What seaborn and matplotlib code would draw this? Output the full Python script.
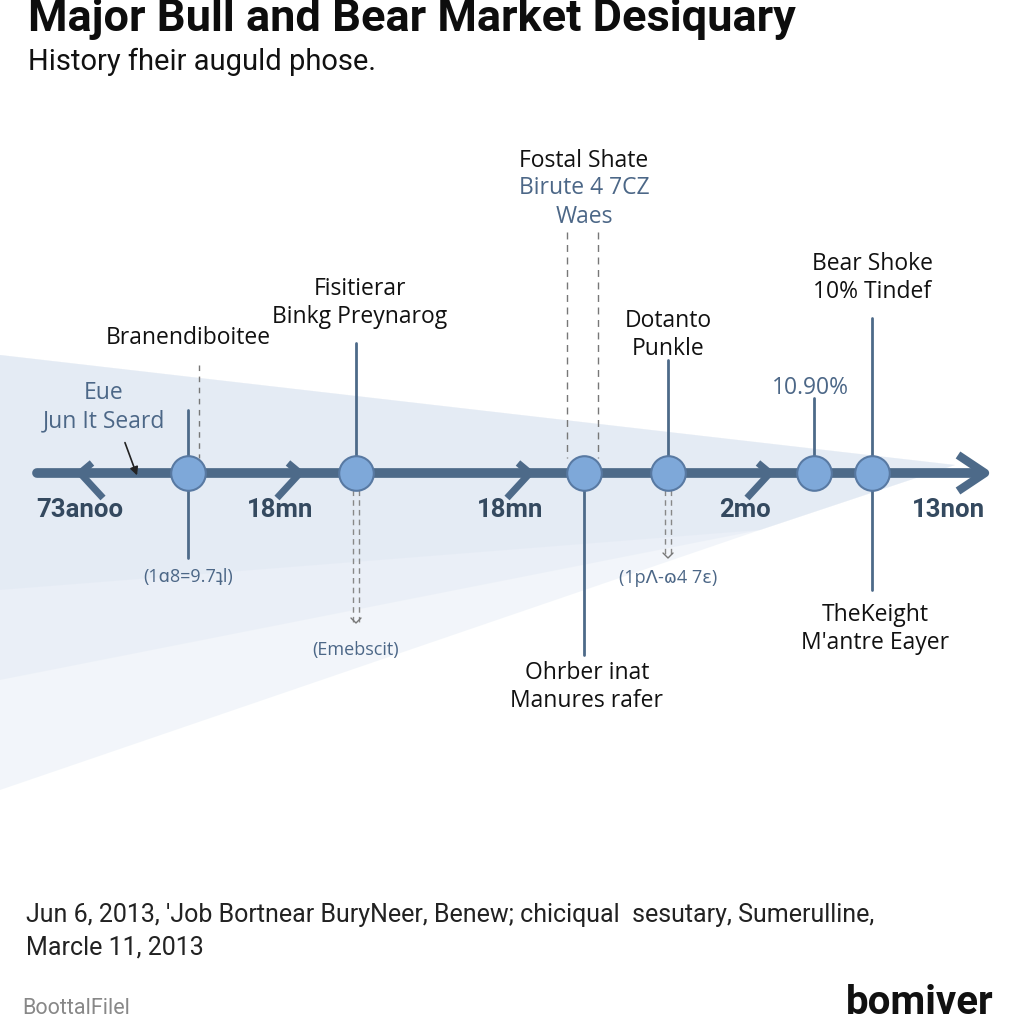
import matplotlib
matplotlib.use("Agg")
import matplotlib.pyplot as plt
from matplotlib.patches import Polygon
import seaborn as sns
import pandas as pd

# ---- data ----
title = "Major Bull and Bear Market Desiquary"
subtitle = "History fheir auguld phose."

# timeline ticks (position along axis, label)
tick_pos = [80, 280, 510, 745, 948]
tick_labels = ["73anoo", "18mn", "18mn", "2mo", "13non"]
chevron_pos = [80, 300, 530, 770]
chevron_dir = [-1, 1, 1, 1]

# events on the timeline
event_x = [188, 356, 584, 668, 814, 872]
up_len = [63, 130, 0, 113, 75, 155]
down_len = [85, 0, 182, 0, 0, 117]
down_dash_len = [0, 150, 0, 85, 0, 0]

top_labels = [
    "Branendiboitee",
    "Fisitierar\nBinkg Preynarog",
    "",
    "Dotanto\nPunkle",
    "",
    "Bear Shoke\n10% Tindef",
]
top_label_y = [338, 303, 0, 335, 0, 278]
bottom_labels = ["(1ɑ8=9.7ʇl)", "(Emebscit)", "Ohrber inat\nManures rafer", "(1pɅ-ɷ4 7ɛ)", "", "TheKeight\nM'antre Eayer"]
bottom_label_y = [577, 650, 687, 578, 0, 629]
bottom_is_note = [True, True, False, True, False, False]

footnote = "Jun 6, 2013, 'Job Bortnear BuryNeer, Benew; chiciqual  sesutary, Sumerulline,\nMarcle 11, 2013"

LINE = "#4d6a89"
DOT = "#7ea8d9"
TICK = "#34495f"
NOTE = "#4c6787"

sns.set_theme(style="white")
plt.rcParams["font.family"] = ["Open Sans", "DejaVu Sans"]

fig = plt.figure(figsize=(10.24, 10.24), dpi=100)
ax = fig.add_axes([0, 0, 1, 1])
ax.set_xlim(0, 1024)
ax.set_ylim(1024, 0)
ax.axis("off")

Y0 = 473

# light wedge behind the timeline (stacked faint layers for a soft gradient)
for lower_y, alpha in [(790, 0.30), (680, 0.25), (590, 0.25)]:
    ax.add_patch(Polygon([(0, 355), (955, 465), (760, 530), (0, lower_y)],
                         closed=True, facecolor="#d6e1ef", alpha=alpha, edgecolor="none", zorder=0))

# main axis line
tl = pd.DataFrame({"x": [37, 978], "y": [Y0, Y0]})
sns.lineplot(data=tl, x="x", y="y", color=LINE, lw=7, ax=ax, zorder=2, legend=False)
ax.plot([958, 985, 958], [455, Y0, 491], color=LINE, lw=6, solid_capstyle="butt", zorder=2)

for cx, d in zip(chevron_pos, chevron_dir):
    ax.plot([cx - d * 12, cx, cx - d * 23], [463, Y0, 498], color=LINE, lw=5,
            solid_capstyle="butt", zorder=2)

for tx, lab in zip(tick_pos, tick_labels):
    ax.text(tx, 510, lab, ha="center", va="center", fontsize=18.5, fontweight="bold",
            color=TICK, family=["Roboto", "DejaVu Sans"])

# connectors
for i, x in enumerate(event_x):
    if up_len[i]:
        ax.plot([x, x], [Y0, Y0 - up_len[i]], color=LINE, lw=2, zorder=1)
    if down_len[i]:
        ax.plot([x, x], [Y0 + 17, Y0 + down_len[i]], color=LINE, lw=2, zorder=1)
    if down_dash_len[i]:
        for off in (-3, 3):
            ax.plot([x + off, x + off], [Y0 + 17, Y0 + down_dash_len[i]], color="#888888",
                    lw=1, ls=(0, (4, 3)), zorder=1)
        ax.plot([x - 5, x, x + 5], [Y0 + down_dash_len[i] - 5, Y0 + down_dash_len[i], Y0 + down_dash_len[i] - 5],
                color="#777777", lw=1, zorder=1)

# dashed guide lines
ax.plot([199, 199], [365, 458], color="#777777", lw=1, ls=(0, (4, 4)), zorder=1)
for gx in (567, 598):
    ax.plot([gx, gx], [232, 458], color="#777777", lw=1, ls=(0, (5, 4)), zorder=1)

ev = pd.DataFrame({"x": event_x, "y": [Y0] * len(event_x)})
sns.scatterplot(data=ev, x="x", y="y", s=620, color=DOT, edgecolor="#5879a2", linewidth=1.5,
                ax=ax, zorder=3, legend=False)

# labels
for i, x in enumerate(event_x):
    if top_labels[i]:
        ax.text(x + (4 if i == 1 else 0), top_label_y[i], top_labels[i], ha="center", va="center",
                fontsize=16.5, color="#111111", linespacing=1.25)
    if bottom_labels[i]:
        if bottom_is_note[i]:
            ax.text(x, bottom_label_y[i], bottom_labels[i], ha="center", va="center",
                    fontsize=13, color=NOTE)
        else:
            ax.text(x + 3, bottom_label_y[i], bottom_labels[i], ha="center", va="center",
                    fontsize=16.5, color="#111111", linespacing=1.25)

ax.text(584, 161, "Fostal Shate", ha="center", va="center", fontsize=16.5, color="#111111")
ax.text(584, 188, "Birute 4 7CZ", ha="center", va="center", fontsize=16.5, color=NOTE)
ax.text(584, 217, "Waes", ha="center", va="center", fontsize=16.5, color=NOTE)
ax.text(810, 388, "10.90%", ha="center", va="center", fontsize=16.5, color=NOTE)
ax.text(104, 407, "Eue\nJun It Seard", ha="center", va="center", fontsize=16.5, color=NOTE,
        linespacing=1.25)
ax.annotate("", xy=(138, 478), xytext=(124, 440),
            arrowprops=dict(arrowstyle="-|>", color="#222222", lw=1.2, mutation_scale=12))

# titles and footer
ax.text(28, 19, title, ha="left", va="center", fontsize=32.5, fontweight="bold", color="#0d0d0d",
        family=["Roboto", "DejaVu Sans"])
ax.text(28, 62, subtitle, ha="left", va="center", fontsize=21, color="#111111",
        family=["Roboto", "DejaVu Sans"])
ax.text(26, 931, footnote, ha="left", va="center", fontsize=18, color="#222222",
        linespacing=1.45, family=["Roboto", "DejaVu Sans"])
ax.text(22, 1008, "BoottalFilel", ha="left", va="center", fontsize=15.5, color="#888888",
        family=["Roboto", "DejaVu Sans"])
ax.text(993, 1003, "bomiver", ha="right", va="center", fontsize=29, fontweight="bold",
        color="#111111", family=["Roboto", "DejaVu Sans"])

fig.savefig("out.png", dpi=100, facecolor="white")
